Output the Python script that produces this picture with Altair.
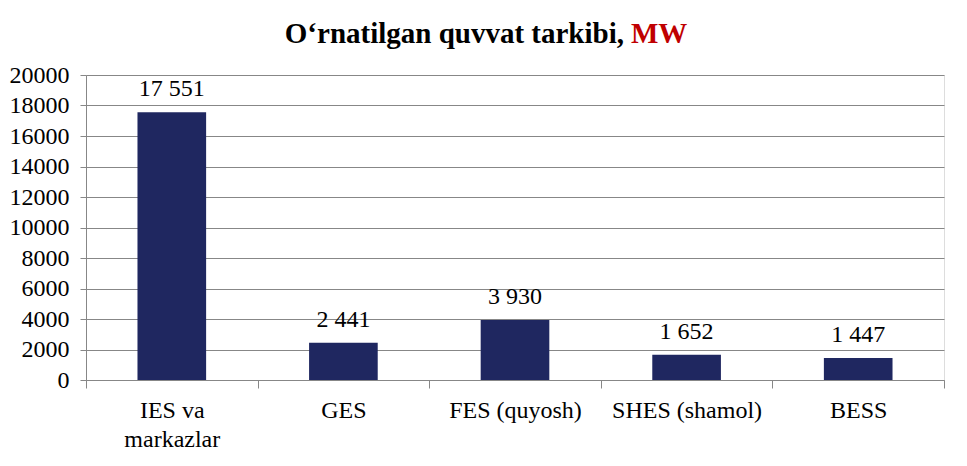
import altair as alt
import pandas as pd

# Ma'lumotlar: o'rnatilgan quvvat, MW
categories = ["IES va markazlar", "GES", "FES (quyosh)", "SHES (shamol)", "BESS"]
capacity_mw = [17551, 2441, 3930, 1652, 1447]
value_labels = ["17 551", "2 441", "3 930", "1 652", "1 447"]
y_ticks = [0, 2000, 4000, 6000, 8000, 10000, 12000, 14000, 16000, 18000, 20000]

title_main = "O‘rnatilgan quvvat tarkibi,"
title_unit = "MW"

FONT = "Liberation Serif"
BAR = "#1F2760"
GRID = "#878787"

df = pd.DataFrame({"cat": categories, "mw": capacity_mw, "label": value_labels})

x_enc = alt.X(
    "cat:N",
    sort=categories,
    title=None,
    scale=alt.Scale(paddingInner=0, paddingOuter=0),
    axis=alt.Axis(
        labelExpr="datum.value == 'IES va markazlar' ? ['IES va', 'markazlar'] : datum.value",
        labelAngle=0,
        labelFont=FONT,
        labelFontSize=24,
        labelColor="black",
        labelPadding=10,
        labelLineHeight=29,
        labelBaseline="top",
        labelLimit=200,
        tickBand="extent",
        tickSize=8,
        tickColor=GRID,
        domainColor=GRID,
        grid=False,
    ),
)

# tickCount harus >= jumlah nilai, kalau tidak Vega menyaring separuhnya
y_enc = alt.Y(
    "mw:Q",
    title=None,
    scale=alt.Scale(domain=[0, 20000], nice=False),
    axis=alt.Axis(
        values=y_ticks,
        tickCount=len(y_ticks),
        format="d",
        labelOverlap=False,
        labelFont=FONT,
        labelFontSize=24,
        labelColor="black",
        labelPadding=11,
        tickSize=6,
        tickColor=GRID,
        domainColor=GRID,
        gridColor=GRID,
        labelFlush=False,
    ),
)

bars = alt.Chart(df).mark_bar(color=BAR, width=alt.RelativeBandSize(0.4)).encode(
    x=x_enc,
    y=y_enc,
)

labels = alt.Chart(df).mark_text(
    font=FONT, fontSize=24, color="black", baseline="alphabetic", dy=-16
).encode(
    x=x_enc,
    y=y_enc,
    text="label:N",
)

t1 = alt.Chart(pd.DataFrame({"t": [title_main]})).mark_text(
    font=FONT, fontSize=29, fontWeight="bold", color="black", align="right", baseline="alphabetic"
).encode(x=alt.value(538), y=alt.value(-32), text="t:N")

t2 = alt.Chart(pd.DataFrame({"t": [title_unit]})).mark_text(
    font=FONT, fontSize=29, fontWeight="bold", color="#C00000", align="left", baseline="alphabetic"
).encode(x=alt.value(545), y=alt.value(-32), text="t:N")

chart = (
    alt.layer(bars, labels, t1, t2)
    .properties(
        width=858,
        height=305,
        autosize=alt.AutoSizeParams(type="none"),
        padding={"left": 78, "top": 67, "right": 15, "bottom": 70},
    )
    .configure_view(stroke=None)
    .configure(background="white")
)

chart.save("out.html", embed_options={"renderer": "svg", "actions": False})
